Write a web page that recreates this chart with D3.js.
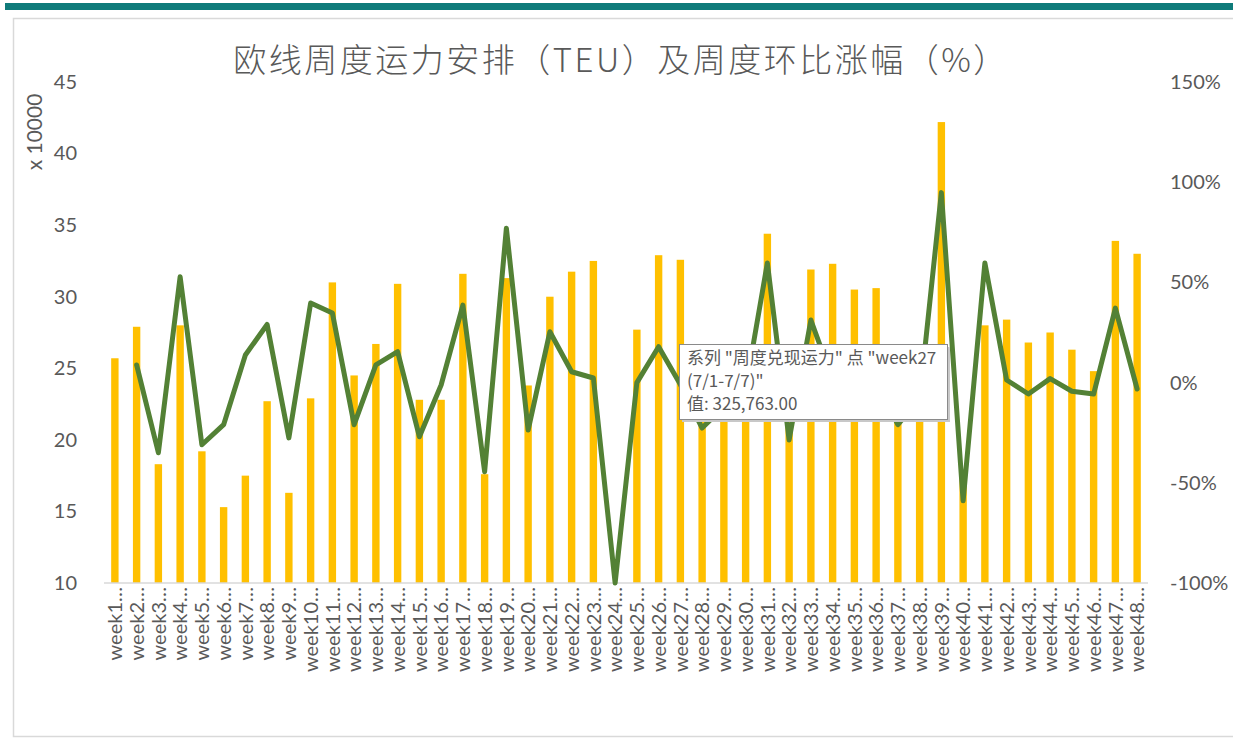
<!DOCTYPE html>
<html>
<head>
<meta charset="utf-8">
<script src="https://cdn.jsdelivr.net/npm/d3@7"></script>
<style>
  html, body { margin: 0; padding: 0; background: #fff; }
  svg { display: block; }
</style>
</head>
<body>
<div id="graf"></div>
<script>
// Semanas (categorías del eje x)
const semanas = [
  "week1", "week2", "week3", "week4", "week5", "week6", "week7", "week8",
  "week9", "week10", "week11", "week12", "week13", "week14", "week15", "week16",
  "week17", "week18", "week19", "week20", "week21", "week22", "week23", "week24",
  "week25", "week26", "week27", "week28", "week29", "week30", "week31", "week32",
  "week33", "week34", "week35", "week36", "week37", "week38", "week39", "week40",
  "week41", "week42", "week43", "week44", "week45", "week46", "week47", "week48"
]

// 周度兑现运力 (x 10000 TEU)
const capacidad = [
  25.7, 27.9, 18.3, 28.0, 19.2, 15.3, 17.5, 22.7,
  16.3, 22.9, 31.0, 24.5, 26.7, 30.9, 22.8, 22.8,
  31.6, 17.6, 31.3, 23.8, 30.0, 31.75, 32.5, 0,
  27.7, 32.9, 32.58, 25.2, 22.2, 21.5, 34.4, 24.3,
  31.9, 32.3, 30.5, 30.6, 24.2, 22.5, 42.2, 17.5,
  28.0, 28.4, 26.8, 27.5, 26.3, 24.8, 33.9, 33.0
]

// 周度环比涨幅 (%)
const variacion = [
  null, 8.8, -35, 52.8, -31, -21, 13.8, 29,
  -27.6, 39.7, 34.7, -21, 8.8, 15.4, -27, -1.2,
  38.7, -44.5, 77, -23.7, 25.4, 5.4, 2.3, -100,
  0, 17.9, -1, -22.7, -12, -3, 59.7, -28.6,
  31.2, 1.3, -5.6, 0.3, -21, -8, 94.8, -59,
  59.7, 1.3, -5.7, 2, -4.3, -5.7, 37.2, -3.2
]

// Ticks de los ejes
const ticksIzq = [10, 15, 20, 25, 30, 35, 40, 45]
const ticksDer = [-100, -50, 0, 50, 100, 150]

const titulo = "欧线周度运力安排（TEU）及周度环比涨幅（%）"
const tooltipLineas = ["系列 \"周度兑现运力\" 点 \"week27", "(7/1-7/7)\"", "值: 325,763.00"]

const anchoTotal = 1233
const altoTotal = 739
const margins = { top: 82, right: 85, bottom: 156, left: 104 }
const ancho = anchoTotal - margins.left - margins.right
const alto = altoTotal - margins.top - margins.bottom

const gris = "#595959"
const fuenteNum = "Lato, 'Open Sans', 'Liberation Sans', sans-serif"
const fuenteCJK = "'Noto Sans CJK SC', 'Noto Sans', sans-serif"

const svg = d3.select("#graf")
  .append("svg")
  .attr("width", anchoTotal)
  .attr("height", altoTotal)

// Marco
svg.append("rect")
  .attr("x", 5).attr("y", 3)
  .attr("width", anchoTotal - 5).attr("height", 7)
  .attr("fill", "#0f7b7a")

svg.append("rect")
  .attr("x", 13.5).attr("y", 18.5)
  .attr("width", anchoTotal).attr("height", 718)
  .attr("fill", "none")
  .attr("stroke", "#d9d9d9")
  .attr("stroke-width", 1.5)

const g = svg.append("g")
  .attr("transform", `translate(${margins.left}, ${margins.top})`)

// Escaladores
const x = d3.scaleBand()
  .domain(semanas)
  .range([0, ancho])
  .paddingInner(0.66)
  .paddingOuter(0.33)

const yIzq = d3.scaleLinear()
  .domain([10, 45])
  .range([alto, 0])

const yDer = d3.scaleLinear()
  .domain([-100, 150])
  .range([alto, 0])

// Barras
g.selectAll(".barra")
  .data(capacidad)
  .enter()
  .append("rect")
  .attr("class", "barra")
  .attr("x", (d, i) => x(semanas[i]))
  .attr("width", x.bandwidth())
  .attr("y", (d) => yIzq(Math.max(d, 10)))
  .attr("height", (d) => alto - yIzq(Math.max(d, 10)))
  .attr("fill", "#ffc000")

// Línea base
g.append("line")
  .attr("x1", 0).attr("x2", ancho)
  .attr("y1", alto).attr("y2", alto)
  .attr("stroke", "#d9d9d9")
  .attr("stroke-width", 1.3)

// Línea de variación
const datosLinea = variacion
  .map((v, i) => ({ semana: semanas[i], v }))
  .filter((d) => d.v !== null)

g.append("path")
  .datum(datosLinea)
  .attr("fill", "none")
  .attr("stroke", "#538135")
  .attr("stroke-width", 5)
  .attr("stroke-linejoin", "round")
  .attr("stroke-linecap", "round")
  .attr("d", d3.line()
    .x((d) => x(d.semana) + x.bandwidth() / 2)
    .y((d) => yDer(d.v)))

// Ejes
const ejeIzq = g.append("g")
  .call(d3.axisLeft(yIzq).tickValues(ticksIzq).tickSize(0).tickPadding(27))
ejeIzq.select(".domain").remove()
ejeIzq.selectAll("text")
  .attr("fill", gris)
  .style("font-family", fuenteNum)
  .style("font-size", "20px")

const ejeDer = g.append("g")
  .attr("transform", `translate(${ancho}, 0)`)
  .call(d3.axisRight(yDer).tickValues(ticksDer).tickSize(0).tickPadding(22).tickFormat((d) => d + "%"))
ejeDer.select(".domain").remove()
ejeDer.selectAll("text")
  .attr("fill", gris)
  .style("font-family", fuenteNum)
  .style("font-size", "20px")

const ejeX = g.append("g")
  .attr("transform", `translate(0, ${alto})`)
  .call(d3.axisBottom(x).tickSize(0).tickFormat((d) => d + "…"))
ejeX.select(".domain").remove()
ejeX.selectAll("text")
  .attr("fill", gris)
  .style("font-family", fuenteNum)
  .style("font-size", "20px")
  .attr("text-anchor", "end")
  .attr("transform", "rotate(-90)")
  .attr("x", -4)
  .attr("y", 0)
  .attr("dy", "0.36em")

// Título
svg.append("text")
  .attr("x", 621)
  .attr("y", 72)
  .attr("text-anchor", "middle")
  .attr("fill", gris)
  .style("font-family", fuenteCJK)
  .style("font-size", "33px")
  .style("font-weight", 300)
  .style("letter-spacing", "2.5px")
  .text(titulo)

// Título eje izquierdo
svg.append("text")
  .attr("transform", "translate(42, 132) rotate(-90)")
  .attr("text-anchor", "middle")
  .attr("fill", gris)
  .style("font-family", fuenteNum)
  .style("font-size", "21px")
  .text("x 10000")

// Tooltip
const tip = svg.append("g")
  .attr("transform", "translate(679, 344)")

tip.append("rect")
  .attr("x", 3).attr("y", 3)
  .attr("width", 268).attr("height", 75)
  .attr("fill", "#c8c8c8")

tip.append("rect")
  .attr("x", 0.5).attr("y", 0.5)
  .attr("width", 268).attr("height", 75)
  .attr("fill", "#fff")
  .attr("stroke", "#8a8a8a")

tip.selectAll(".tipTexto")
  .data(tooltipLineas)
  .enter()
  .append("text")
  .attr("class", "tipTexto")
  .attr("x", 8)
  .attr("y", (d, i) => 20 + i * 23)
  .attr("fill", gris)
  .style("font-family", fuenteCJK)
  .style("font-size", "17px")
  .text((d) => d)
</script>
</body>
</html>
